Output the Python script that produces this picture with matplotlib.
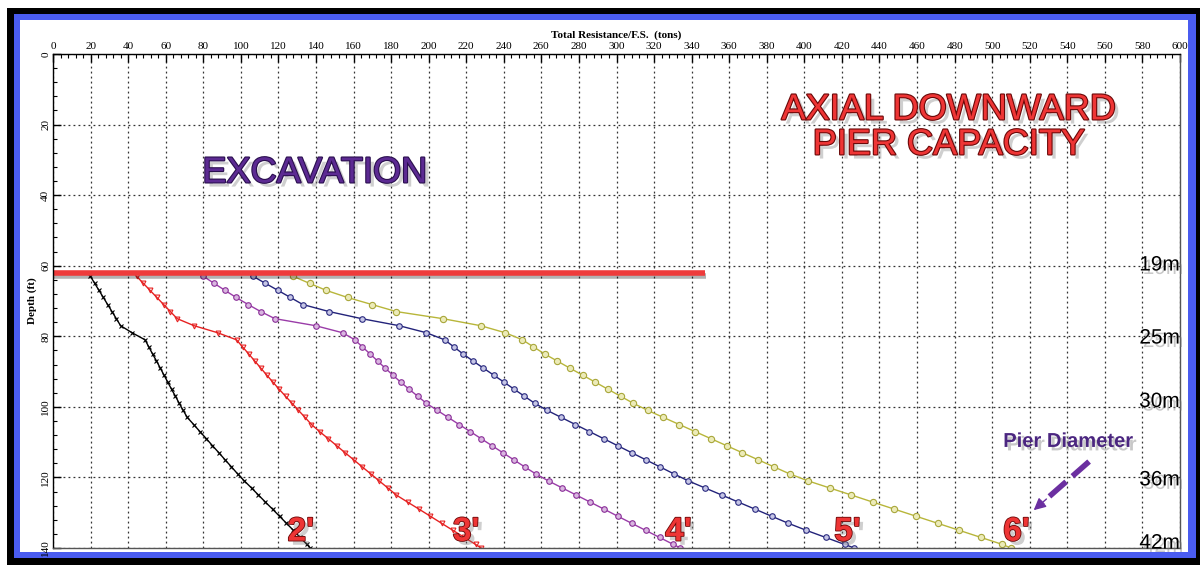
import matplotlib
matplotlib.use("Agg")
import matplotlib.pyplot as plt
import matplotlib.patches as patches
import matplotlib.patheffects as pe
from matplotlib.ticker import MultipleLocator

# depth (ft) where each curve is read
depth = [63, 65, 67, 69, 71, 73, 75, 77, 79, 81, 83, 85, 87, 89, 91, 93, 95, 97, 99, 101,
         103, 105, 107, 109, 111, 113, 115, 117, 119, 121, 123, 125, 127, 129, 131, 133, 135, 137, 139, 140]

# total resistance / F.S. (tons) for each pier diameter
res_2ft = [19.9, 22.2, 24.5, 26.8, 29.1, 31.4, 33.7, 36.0, 42.1, 49.0, 51.0, 53.0, 55.1, 57.1, 59.1, 61.1,
           63.1, 65.2, 67.2, 69.3, 71.5, 74.9, 78.2, 81.6, 84.9, 88.3, 91.6, 95.0, 98.3, 101.9, 105.7, 109.4,
           113.1, 116.9, 120.6, 124.3, 128.0, 131.6, 135.2, 137.0]
res_3ft = [44.5, 48.1, 51.7, 55.3, 58.9, 62.5, 66.1, 75.1, 87.7, 97.7, 100.9, 104.2, 107.4, 110.6, 113.8,
           117.1, 120.4, 123.8, 127.3, 130.7, 134.2, 137.6, 141.9, 146.5, 151.0, 155.5, 160.1, 164.6, 169.2,
           173.7, 178.3, 182.8, 188.8, 194.9, 200.9, 206.9, 212.9, 219.0, 225.0, 228.0]
res_4ft = [80.0, 85.8, 91.6, 97.5, 103.9, 110.6, 118.1, 139.8, 154.2, 160.7, 164.7, 168.8, 172.8, 176.8,
           180.9, 185.1, 189.6, 194.2, 198.8, 204.6, 210.4, 216.2, 222.1, 227.9, 233.7, 239.5, 245.3, 251.1,
           257.0, 263.8, 271.2, 278.6, 286.0, 293.4, 300.7, 308.1, 315.5, 322.9, 330.3, 334.0]
res_5ft = [106.5, 113.1, 119.8, 126.4, 133.0, 147.0, 164.3, 184.3, 198.8, 208.5, 213.4, 218.3, 223.6, 229.1,
           234.6, 240.1, 245.5, 251.0, 256.5, 263.1, 270.6, 278.1, 285.6, 293.1, 300.6, 308.1, 315.6, 323.1,
           330.6, 338.3, 347.2, 356.1, 364.9, 373.8, 382.6, 391.5, 401.1, 411.3, 421.5, 426.6]
res_6ft = [127.8, 136.6, 145.5, 156.8, 169.8, 182.8, 207.5, 227.7, 240.8, 249.9, 255.8, 261.7, 268.4, 275.1,
           281.9, 288.7, 295.4, 302.2, 309.0, 316.6, 325.0, 333.4, 341.8, 350.2, 358.6, 367.0, 375.4, 383.8,
           392.2, 402.1, 413.6, 425.1, 436.5, 448.0, 459.5, 471.0, 482.5, 494.0, 505.5, 510.0]

diam_labels = ["2'", "3'", "4'", "5'", "6'"]
diam_label_x = [132, 220, 333, 423, 513]
diam_label_depth = 135.5

metric_labels = ["19m", "25m", "30m", "36m", "42m"]
metric_depth = [59.8, 80.5, 98.5, 120.7, 138.6]

excavation_depth = 62.2
excavation_end = 347

fig = plt.figure(figsize=(12, 5.65), dpi=100)
fig.patch.set_facecolor('white')

# window frame: black edge, blue band, white inside
fig.add_artist(patches.Rectangle((7/1200, 0), 1193/1200, 557/565, facecolor='black',
                                 edgecolor='none', transform=fig.transFigure, zorder=-3))
fig.add_artist(patches.Rectangle((14/1200, 7/565), 1182/1200, 544/565, facecolor='#4a5cf0',
                                 edgecolor='none', transform=fig.transFigure, zorder=-2))
fig.add_artist(patches.Rectangle((20/1200, 13/565), 1168/1200, 532/565, facecolor='white',
                                 edgecolor='none', transform=fig.transFigure, zorder=-1))

ax = fig.add_axes([53/1200, 17/565, 1127/1200, 494/565])
ax.set_facecolor('none')
ax.set_xlim(0, 600)
ax.set_ylim(140, 0)

serif = 'Liberation Serif'
sans = 'Liberation Sans'

ax.xaxis.tick_top()
ax.xaxis.set_label_position('top')
ax.xaxis.set_major_locator(MultipleLocator(20))
ax.xaxis.set_minor_locator(MultipleLocator(4))
ax.yaxis.set_major_locator(MultipleLocator(20))
ax.yaxis.set_minor_locator(MultipleLocator(4))
ax.tick_params(axis='both', which='major', direction='in', length=6, width=1, labelsize=8, pad=2)
ax.tick_params(axis='both', which='minor', direction='in', length=3, width=0.8)
for lab in ax.get_xticklabels() + ax.get_yticklabels():
    lab.set_fontfamily(serif)
for lab in ax.get_yticklabels():
    lab.set_rotation(90)
    lab.set_va('center')
for sp in ax.spines.values():
    sp.set_color('#555555')
    sp.set_linewidth(1)
ax.spines['top'].set_color('black')
ax.spines['left'].set_color('black')

ax.set_xlabel('Total Resistance/F.S.  (tons)', fontfamily=serif, fontweight='bold', fontsize=8, labelpad=3)
ax.set_ylabel('Depth (ft)', fontfamily=serif, fontweight='bold', fontsize=8, labelpad=3)

ax.grid(True, which='major', color='#333333', linestyle=(0, (1.5, 2.5)), linewidth=0.9)
ax.set_axisbelow(True)

# curves
ax.plot(res_2ft, depth, color='black', lw=1, marker='x', ms=3, mew=0.8)
ax.plot(res_3ft, depth, color='#e62222', lw=1, marker='v', ms=3.5, mfc='none', mew=0.8)
ax.plot(res_4ft, depth, color='#9a3ca8', lw=1, marker='o', ms=4, mfc='#d9b6e0', mec='#8a2f98', mew=0.8)
ax.plot(res_5ft, depth, color='#23237a', lw=1, marker='o', ms=4, mfc='#c6c6e6', mec='#2b2b80', mew=0.8)
ax.plot(res_6ft, depth, color='#b8b63a', lw=1, marker='o', ms=4.5, mfc='#ecebb8', mec='#a8a63a', mew=0.8)

# excavation line
ax.plot([0, excavation_end], [excavation_depth, excavation_depth], color='#ee3b3b', lw=4,
        solid_capstyle='butt', clip_on=False,
        path_effects=[pe.SimpleLineShadow(offset=(1, -1.5), alpha=0.3), pe.Normal()])

shadow = pe.SimplePatchShadow(offset=(3, -3), shadow_rgbFace='#777777', alpha=0.35)

ax.text(139.5, 33.7, 'EXCAVATION', fontfamily=sans, fontsize=26, color='#5c2a92',
        ha='center', va='center',
        path_effects=[shadow, pe.Stroke(linewidth=1.6, foreground='#2a0f4e'), pe.Normal()])

ax.text(477, 20.8, 'AXIAL DOWNWARD\nPIER CAPACITY', fontfamily=sans, fontsize=26, color='#ee3535',
        ha='center', va='center', linespacing=1.0,
        path_effects=[shadow, pe.Stroke(linewidth=1.6, foreground='#6a0808'), pe.Normal()])

for lab, xv in zip(diam_labels, diam_label_x):
    ax.text(xv, diam_label_depth, lab, fontfamily=sans, fontsize=24, fontweight='bold', color='#ee3535',
            ha='center', va='center',
            path_effects=[shadow, pe.Stroke(linewidth=1.2, foreground='#6a0808'), pe.Normal()])

for lab, dv in zip(metric_labels, metric_depth):
    ax.text(600, dv, lab, fontfamily=sans, fontsize=15, color='black', ha='right', va='center',
            clip_on=False,
            path_effects=[pe.SimplePatchShadow(offset=(2.5, -2.5), shadow_rgbFace='#777777', alpha=0.4),
                          pe.Normal()])

ax.text(540.5, 109.8, 'Pier Diameter', fontfamily=sans, fontsize=14.5, fontweight='bold', color='#4b2680',
        ha='center', va='center',
        path_effects=[pe.SimplePatchShadow(offset=(2.5, -2.5), shadow_rgbFace='#777777', alpha=0.4),
                      pe.Normal()])

# dashed arrow pointing at the 6' label
ax.plot([551.6, 527.0], [115.5, 127.0], color='#6b2fa0', lw=4, linestyle=(0, (4, 1.5)),
        solid_capstyle='butt')
ax.annotate('', xy=(521.0, 129.8), xytext=(530.0, 125.6),
            arrowprops=dict(arrowstyle='-|>', mutation_scale=18, color='#6b2fa0', lw=1))

fig.savefig('out.png', dpi=100)
